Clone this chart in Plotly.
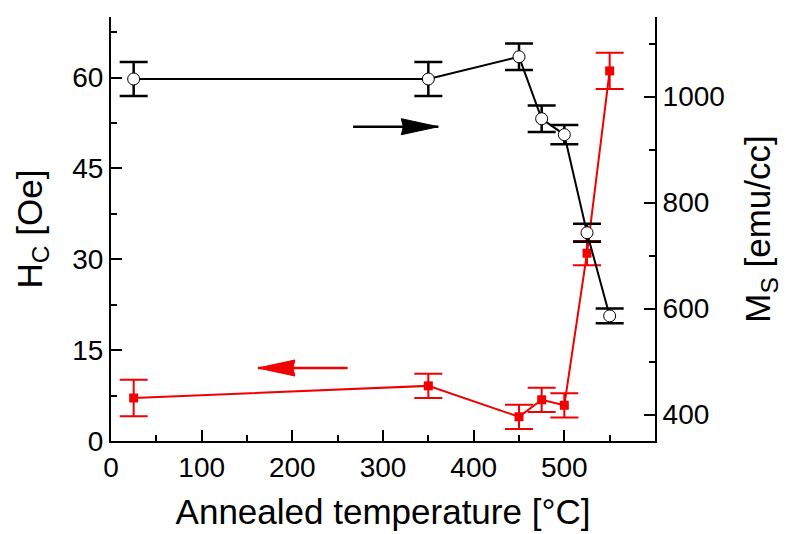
import plotly.graph_objects as go

# ---- data ----
temps = [25, 350, 450, 475, 500, 525, 550]
hc = [7.1, 9.1, 4.0, 6.8, 5.9, 31.0, 61.1]
hc_err = [3.0, 2.0, 2.0, 2.0, 2.0, 2.0, 3.0]
ms = [1033, 1033, 1075, 958, 928, 743, 586]
ms_err = [32, 32, 25, 25, 18, 17, 14]

x_ticks = [0, 100, 200, 300, 400, 500]
hc_ticks = [0, 15, 30, 45, 60]
ms_ticks = [400, 600, 800, 1000]

FONT = "Liberation Sans, Arial, sans-serif"
RED = "#f00000"

fig = go.Figure()

fig.add_trace(go.Scatter(
    x=temps, y=hc, mode="lines+markers",
    line=dict(color=RED, width=2),
    marker=dict(symbol="square", size=9, color=RED),
    error_y=dict(type="data", array=hc_err, visible=True, color=RED,
                 thickness=2, width=14),
    yaxis="y", showlegend=False,
))

fig.add_trace(go.Scatter(
    x=temps, y=ms, mode="lines+markers",
    line=dict(color="black", width=2),
    marker=dict(symbol="circle", size=12, color="white",
                line=dict(color="black", width=1)),
    error_y=dict(type="data", array=ms_err, visible=True, color="black",
                 thickness=2.5, width=14),
    yaxis="y2", showlegend=False,
))

# direction arrows: shaft (data coords) + pixel-sized triangular head
def arrow(x_tail, x_tip, y, yref, color, direction):
    fig.add_shape(type="line", xref="x", yref=yref,
                  x0=x_tail, x1=x_tip, y0=y, y1=y,
                  line=dict(color=color, width=2.5))
    d = direction
    fig.add_shape(type="path", xref="x", yref=yref,
                  xsizemode="pixel", ysizemode="pixel",
                  xanchor=x_tip, yanchor=y,
                  path=f"M 0 0 L {-37*d} 8 L {-35*d} 0 L {-37*d} -8 Z",
                  fillcolor=color, line=dict(color=color, width=1))

arrow(267, 361, 943, "y2", "black", 1)
arrow(261, 162, 12.05, "y", RED, -1)

axis_common = dict(showline=True, linecolor="black", linewidth=2,
                   ticks="inside", tickcolor="black", tickwidth=2, ticklen=11,
                   showgrid=False, zeroline=False, automargin=False,
                   tickfont=dict(family=FONT, size=28, color="black"))

fig.update_layout(
    width=787, height=534,
    margin=dict(l=103, r=140, t=9, b=101),
    paper_bgcolor="white", plot_bgcolor="white",
    font=dict(family=FONT, color="black"),
    xaxis=dict(range=[0, 600], tickvals=x_ticks,
               minor=dict(dtick=50, tick0=0, ticks="inside", ticklen=6,
                          tickwidth=2, tickcolor="black"),
               title=dict(text="Annealed temperature [°C]",
                          font=dict(family=FONT, size=35), standoff=18),
               **axis_common),
    xaxis2=dict(range=[0, 600], overlaying="x", side="top", tickvals=x_ticks,
                showticklabels=False, **axis_common),
    yaxis=dict(range=[0, 70], tickvals=hc_ticks,
               minor=dict(dtick=7.5, tick0=0, ticks="inside", ticklen=6,
                          tickwidth=2, tickcolor="black"),
               title=dict(text="H<sub>C</sub> [Oe]",
                          font=dict(family=FONT, size=35), standoff=19),
               **axis_common),
    yaxis2=dict(range=[350, 1150], overlaying="y", side="right",
                tickvals=ms_ticks,
                minor=dict(dtick=100, tick0=0, ticks="inside", ticklen=6,
                           tickwidth=2, tickcolor="black"),
                title=dict(text="M<sub>S</sub> [emu/cc]",
                           font=dict(family=FONT, size=35), standoff=22),
                **axis_common),
)

fig.write_html("out.html")
